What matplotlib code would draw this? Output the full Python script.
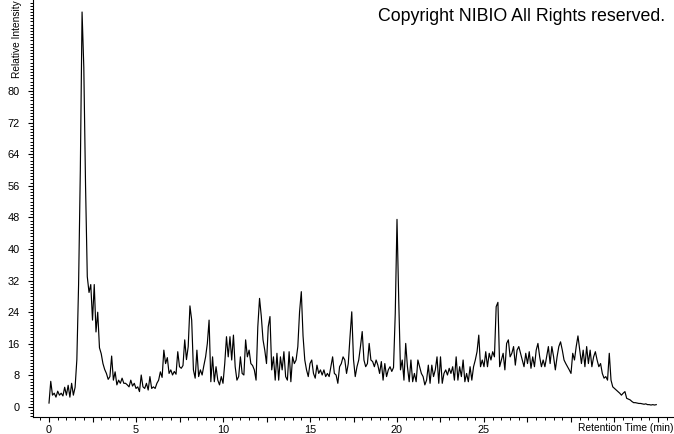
import matplotlib
matplotlib.use("Agg")
import matplotlib.pyplot as plt
import numpy as np
from matplotlib.ticker import MultipleLocator, FixedLocator

# Relative intensity, one value every 0.1 min from 0.0 min
intensity = [
    1.0, 6.5, 3.0, 3.5, 2.5, 4.0, 3.0, 3.5, 2.8, 5.0,          # 0 min
    3.0, 5.5, 2.5, 6.0, 3.0, 5.0, 12.0, 31.0, 60.0, 100.0,     # 1
    86.0, 56.0, 33.0, 29.0, 31.0, 22.0, 31.0, 19.0, 24.0, 15.0,  # 2
    13.5, 11.0, 9.5, 8.5, 7.0, 7.7, 12.9, 6.8, 8.9, 5.6,       # 3
    6.8, 6.0, 7.3, 6.0, 6.0, 5.6, 5.1, 6.8, 5.3, 6.0,          # 4
    4.7, 5.1, 3.9, 8.1, 5.1, 4.7, 6.0, 4.3, 7.7, 4.7,          # 5
    5.1, 4.7, 6.0, 6.8, 8.9, 7.5, 14.4, 11.0, 12.5, 8.5,       # 6
    9.4, 8.1, 9.0, 8.3, 14.0, 10.2, 9.8, 10.5, 17.0, 12.0,     # 7
    15.3, 25.6, 22.0, 9.4, 7.3, 14.4, 7.7, 9.4, 8.1, 10.5,     # 8
    12.7, 16.1, 22.0, 6.4, 12.7, 6.4, 10.2, 6.8, 5.6, 7.7,     # 9
    6.0, 11.0, 17.8, 12.7, 17.8, 11.9, 18.2, 10.2, 6.8, 7.7,   # 10
    12.7, 8.5, 8.1, 17.0, 12.7, 14.4, 11.0, 10.5, 9.4, 6.8,    # 11
    20.3, 27.5, 23.0, 17.0, 14.4, 11.0, 20.3, 22.9, 9.4, 12.7,  # 12
    6.8, 13.6, 6.8, 12.7, 9.4, 14.0, 7.7, 6.8, 14.0, 6.4,      # 13
    12.7, 11.0, 11.9, 15.3, 24.1, 29.2, 18.0, 11.9, 9.4, 7.7,  # 14
    11.0, 11.9, 8.5, 7.3, 10.6, 8.5, 9.4, 8.1, 9.4, 7.7,       # 15
    8.5, 7.7, 10.2, 12.7, 8.5, 8.1, 6.0, 10.2, 11.0, 12.7,     # 16
    11.9, 8.5, 11.0, 17.8, 24.1, 12.0, 7.7, 10.2, 11.9, 15.3,  # 17
    19.1, 11.9, 10.2, 11.0, 16.1, 11.9, 11.5, 10.2, 11.9, 10.6,  # 18
    8.5, 11.5, 6.8, 11.0, 7.7, 9.4, 10.2, 9.0, 10.0, 23.7,     # 19
    47.5, 27.0, 9.4, 11.9, 6.8, 16.1, 10.2, 6.4, 11.9, 6.4,    # 20
    8.5, 6.4, 11.9, 10.2, 8.5, 7.7, 5.6, 6.8, 10.6, 6.0,       # 21
    10.6, 7.7, 9.4, 12.7, 6.0, 12.7, 6.0, 8.5, 9.4, 8.1,       # 22
    9.8, 8.5, 10.2, 6.8, 12.7, 6.8, 10.2, 7.7, 11.9, 6.4,      # 23
    8.5, 6.4, 10.2, 6.8, 10.2, 11.9, 14.0, 18.2, 10.2, 11.9,   # 24
    10.2, 14.0, 10.2, 13.6, 11.9, 14.0, 12.7, 25.4, 26.5, 10.2,  # 25
    11.9, 13.6, 9.4, 16.1, 17.0, 12.7, 13.6, 15.3, 10.6, 14.4,  # 26
    15.3, 13.6, 11.9, 10.2, 13.6, 11.0, 14.0, 9.8, 12.7, 10.2,  # 27
    14.4, 16.1, 12.7, 10.2, 11.9, 10.2, 12.7, 15.3, 11.0, 15.3,  # 28
    12.7, 9.4, 12.7, 15.3, 16.5, 14.4, 11.9, 11.0, 10.2, 9.4,  # 29
    8.5, 13.6, 11.9, 15.3, 18.0, 14.4, 11.0, 14.4, 10.2, 15.3,  # 30
    11.0, 14.4, 10.2, 12.7, 14.0, 11.9, 10.2, 11.0, 8.5, 7.3,  # 31
    7.7, 6.8, 13.6, 6.8, 5.1, 4.7, 4.3, 3.9, 3.5, 3.0,         # 32
    3.5, 3.9, 2.2, 2.0, 1.8, 1.4, 1.1, 1.1, 1.0, 0.9,          # 33
    0.9, 0.8, 0.7, 0.8, 0.6, 0.6, 0.5, 0.6, 0.5, 0.6,          # 34
]
time_step = 0.1
retention_time = np.arange(len(intensity)) * time_step

x_labels = [0, 5, 10, 15, 20, 25]
y_labels = [0, 8, 16, 24, 32, 40, 48, 56, 64, 72, 80]

plt.rcParams['font.family'] = ['Liberation Sans', 'DejaVu Sans']

fig = plt.figure(figsize=(6.74, 4.34), dpi=100)
ax = fig.add_axes([33 / 674, 17 / 434, 641 / 674, 417 / 434])

ax.plot(retention_time, intensity, color='black', linewidth=0.85)

ax.set_xlim(-0.92, 35.92)
ax.set_ylim(-2.53, 103.04)

for side in ['top', 'right']:
    ax.spines[side].set_visible(False)
for side in ['left', 'bottom']:
    ax.spines[side].set_linewidth(0.8)

# x ticks: long every 2.5 min, short every 0.5 min, labels every 5 up to 25
x_major = np.arange(0, 36, 2.5)
ax.set_xticks(x_major)
ax.set_xticklabels([str(int(v)) if v in x_labels else '' for v in x_major])
ax.xaxis.set_minor_locator(MultipleLocator(0.5))

ax.yaxis.set_major_locator(FixedLocator(y_labels))
ax.yaxis.set_minor_locator(MultipleLocator(0.8))
ax.set_yticklabels([str(v) for v in y_labels])

ax.tick_params(axis='both', which='major', length=3.6, width=0.8,
               labelsize=7.9, color='black')
ax.tick_params(axis='both', which='minor', length=2.0, width=0.7, color='black')
ax.tick_params(axis='x', which='major', pad=2.0)
ax.tick_params(axis='y', which='major', pad=6)

fig.text(17 / 674, 1 - 78 / 434, 'Relative Intensity', rotation=90,
         ha='center', va='bottom', fontsize=7.3)
fig.text(578 / 674, 1 - 428 / 434, 'Retention Time (min)',
         ha='left', va='center', fontsize=7.4)
fig.text(378 / 674, 1 - 21 / 434, 'Copyright NIBIO All Rights reserved.',
         ha='left', va='baseline', fontsize=12.8)

plt.savefig('out.png', dpi=100)
